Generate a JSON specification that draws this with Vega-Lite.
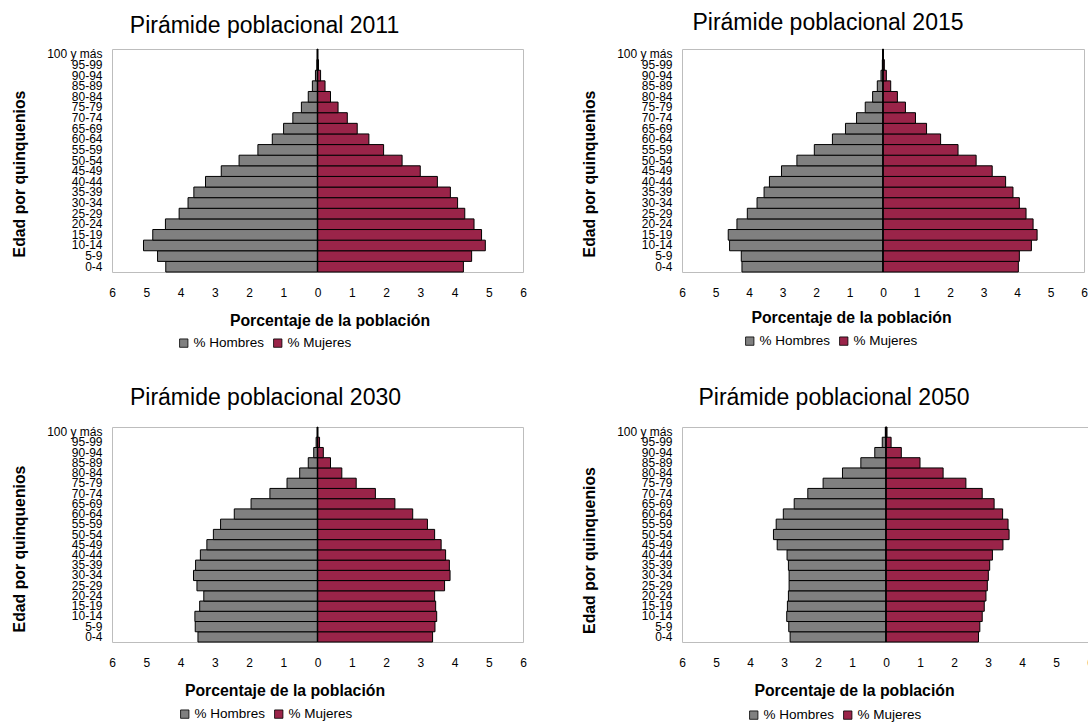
{
"$schema": "https://vega.github.io/schema/vega-lite/v6.json",
"background": "white",
"padding": {"left": 10, "top": 11, "right": 0, "bottom": 0},
"config": {"font": "Liberation Sans", "view": {"stroke": "#bdbdbd", "strokeWidth": 1}, "axis": {"grid": false}, "title": {"font": "Liberation Sans", "fontSize": 23, "fontWeight": "normal", "color": "#000", "anchor": "middle", "frame": "group"}},
"datasets": {"d": [
{"year":2011,"edad":"0-4","h":4.43,"m":4.26},{"year":2011,"edad":"5-9","h":4.67,"m":4.50},{"year":2011,"edad":"10-14","h":5.08,"m":4.90},{"year":2011,"edad":"15-19","h":4.81,"m":4.79},{"year":2011,"edad":"20-24","h":4.44,"m":4.57},{"year":2011,"edad":"25-29","h":4.04,"m":4.30},{"year":2011,"edad":"30-34","h":3.78,"m":4.09},{"year":2011,"edad":"35-39","h":3.61,"m":3.88},{"year":2011,"edad":"40-44","h":3.27,"m":3.50},{"year":2011,"edad":"45-49","h":2.81,"m":3.00},{"year":2011,"edad":"50-54","h":2.29,"m":2.47},{"year":2011,"edad":"55-59","h":1.74,"m":1.93},{"year":2011,"edad":"60-64","h":1.32,"m":1.50},{"year":2011,"edad":"65-69","h":0.99,"m":1.16},{"year":2011,"edad":"70-74","h":0.72,"m":0.87},{"year":2011,"edad":"75-79","h":0.47,"m":0.60},{"year":2011,"edad":"80-84","h":0.27,"m":0.38},{"year":2011,"edad":"85-89","h":0.15,"m":0.22},{"year":2011,"edad":"90-94","h":0.06,"m":0.09},{"year":2011,"edad":"95-99","h":0.02,"m":0.03},{"year":2011,"edad":"100 y más","h":0.01,"m":0.01},
{"year":2015,"edad":"0-4","h":4.21,"m":4.04},{"year":2015,"edad":"5-9","h":4.23,"m":4.07},{"year":2015,"edad":"10-14","h":4.58,"m":4.43},{"year":2015,"edad":"15-19","h":4.62,"m":4.60},{"year":2015,"edad":"20-24","h":4.36,"m":4.48},{"year":2015,"edad":"25-29","h":4.05,"m":4.27},{"year":2015,"edad":"30-34","h":3.76,"m":4.07},{"year":2015,"edad":"35-39","h":3.55,"m":3.88},{"year":2015,"edad":"40-44","h":3.39,"m":3.66},{"year":2015,"edad":"45-49","h":3.03,"m":3.26},{"year":2015,"edad":"50-54","h":2.57,"m":2.78},{"year":2015,"edad":"55-59","h":2.05,"m":2.24},{"year":2015,"edad":"60-64","h":1.51,"m":1.72},{"year":2015,"edad":"65-69","h":1.12,"m":1.30},{"year":2015,"edad":"70-74","h":0.79,"m":0.97},{"year":2015,"edad":"75-79","h":0.53,"m":0.67},{"year":2015,"edad":"80-84","h":0.31,"m":0.43},{"year":2015,"edad":"85-89","h":0.17,"m":0.23},{"year":2015,"edad":"90-94","h":0.06,"m":0.10},{"year":2015,"edad":"95-99","h":0.02,"m":0.04},{"year":2015,"edad":"100 y más","h":0.01,"m":0.01},
{"year":2030,"edad":"0-4","h":3.49,"m":3.36},{"year":2030,"edad":"5-9","h":3.57,"m":3.43},{"year":2030,"edad":"10-14","h":3.58,"m":3.48},{"year":2030,"edad":"15-19","h":3.44,"m":3.45},{"year":2030,"edad":"20-24","h":3.32,"m":3.42},{"year":2030,"edad":"25-29","h":3.52,"m":3.71},{"year":2030,"edad":"30-34","h":3.62,"m":3.87},{"year":2030,"edad":"35-39","h":3.56,"m":3.85},{"year":2030,"edad":"40-44","h":3.42,"m":3.74},{"year":2030,"edad":"45-49","h":3.23,"m":3.61},{"year":2030,"edad":"50-54","h":3.04,"m":3.42},{"year":2030,"edad":"55-59","h":2.83,"m":3.21},{"year":2030,"edad":"60-64","h":2.43,"m":2.78},{"year":2030,"edad":"65-69","h":1.94,"m":2.26},{"year":2030,"edad":"70-74","h":1.39,"m":1.69},{"year":2030,"edad":"75-79","h":0.89,"m":1.13},{"year":2030,"edad":"80-84","h":0.52,"m":0.71},{"year":2030,"edad":"85-89","h":0.27,"m":0.38},{"year":2030,"edad":"90-94","h":0.11,"m":0.17},{"year":2030,"edad":"95-99","h":0.04,"m":0.06},{"year":2030,"edad":"100 y más","h":0.01,"m":0.01},
{"year":2050,"edad":"0-4","h":2.82,"m":2.72},{"year":2050,"edad":"5-9","h":2.86,"m":2.76},{"year":2050,"edad":"10-14","h":2.92,"m":2.83},{"year":2050,"edad":"15-19","h":2.90,"m":2.89},{"year":2050,"edad":"20-24","h":2.87,"m":2.94},{"year":2050,"edad":"25-29","h":2.85,"m":2.98},{"year":2050,"edad":"30-34","h":2.85,"m":3.01},{"year":2050,"edad":"35-39","h":2.87,"m":3.05},{"year":2050,"edad":"40-44","h":2.91,"m":3.13},{"year":2050,"edad":"45-49","h":3.20,"m":3.44},{"year":2050,"edad":"50-54","h":3.31,"m":3.62},{"year":2050,"edad":"55-59","h":3.23,"m":3.59},{"year":2050,"edad":"60-64","h":3.02,"m":3.43},{"year":2050,"edad":"65-69","h":2.70,"m":3.18},{"year":2050,"edad":"70-74","h":2.30,"m":2.83},{"year":2050,"edad":"75-79","h":1.85,"m":2.35},{"year":2050,"edad":"80-84","h":1.28,"m":1.68},{"year":2050,"edad":"85-89","h":0.74,"m":1.00},{"year":2050,"edad":"90-94","h":0.33,"m":0.45},{"year":2050,"edad":"95-99","h":0.11,"m":0.15},{"year":2050,"edad":"100 y más","h":0.02,"m":0.03}
]},
"bounds": "flush",
"align": "each",
"columns": 2,
"spacing": {"row": 155, "column": 159},
"resolve": {"scale": {"color": "independent"}},
"concat": [
{"width": 411, "height": 223,
 "title": {"text": "Pirámide poblacional 2011", "dx": -53, "offset": 10},
 "data": {"name": "d"},
 "layer": [
  {"transform": [{"filter": "datum.year == 2011"}], "mark": {"type": "bar", "stroke": "#000", "strokeWidth": 1},
   "encoding": {
    "y": {"field": "edad", "type": "ordinal", "sort": ["100 y más","95-99","90-94","85-89","80-84","75-79","70-74","65-69","60-64","55-59","50-54","45-49","40-44","35-39","30-34","25-29","20-24","15-19","10-14","5-9","0-4"], "scale": {"paddingInner": 0, "paddingOuter": 0}, "axis": {"title": "Edad por quinquenios", "ticks": false, "domain": false, "labelPadding": 10, "labelFontSize": 12, "labelOverlap": false, "labelColor": "#000", "titleFontSize": 15.8, "titleFontWeight": "bold", "titleColor": "#000", "titleX": -93, "titleY": 124.5, "titleBaseline": "middle", "titleAlign": "center", "titleAngle": -90}},
    "x": {"field": "h", "type": "quantitative", "scale": {"domain": [-6, 6], "reverse": true, "nice": false, "zero": false}, "axis": null},
    "x2": {"datum": 0},
    "color": {"datum": "% Hombres", "type": "nominal", "scale": {"domain": ["% Hombres", "% Mujeres"], "range": ["#808080", "#9A2449"]}, "legend": {"orient": "none", "legendX": 65, "legendY": 287, "direction": "horizontal", "title": null, "symbolType": "square", "symbolSize": 70, "symbolStrokeColor": "#000", "symbolStrokeWidth": 0.8, "labelFontSize": 13.5, "labelColor": "#000", "columnPadding": 6, "labelOffset": 3}}
   }},
  {"transform": [{"filter": "datum.year == 2011"}], "mark": {"type": "bar", "stroke": "#000", "strokeWidth": 1},
   "encoding": {
    "y": {"field": "edad", "type": "ordinal", "sort": ["100 y más","95-99","90-94","85-89","80-84","75-79","70-74","65-69","60-64","55-59","50-54","45-49","40-44","35-39","30-34","25-29","20-24","15-19","10-14","5-9","0-4"], "scale": {"paddingInner": 0, "paddingOuter": 0}, "axis": {"title": "Edad por quinquenios", "ticks": false, "domain": false, "labelPadding": 10, "labelFontSize": 12, "labelOverlap": false, "labelColor": "#000", "titleFontSize": 15.8, "titleFontWeight": "bold", "titleColor": "#000", "titleX": -93, "titleY": 124.5, "titleBaseline": "middle", "titleAlign": "center", "titleAngle": -90}},
    "x": {"field": "m", "type": "quantitative", "scale": {"domain": [-6, 6], "nice": false, "zero": false}, "axis": {"values": [-6,-5,-4,-3,-2,-1,0,1,2,3,4,5,6], "labelExpr": "toString(abs(datum.value))", "ticks": false, "domain": false, "grid": false, "labelPadding": 15, "labelFontSize": 12, "labelColor": "#000", "labelFlush": false, "labelOverlap": false, "title": "Porcentaje de la población", "titleFontSize": 15.8, "titleFontWeight": "bold", "titleColor": "#000", "titleX": 217.5, "titleY": 48, "titleBaseline": "middle", "titleAlign": "center"}},
    "x2": {"datum": 0},
    "color": {"datum": "% Mujeres", "type": "nominal", "scale": {"domain": ["% Hombres", "% Mujeres"], "range": ["#808080", "#9A2449"]}, "legend": {"orient": "none", "legendX": 65, "legendY": 287, "direction": "horizontal", "title": null, "symbolType": "square", "symbolSize": 70, "symbolStrokeColor": "#000", "symbolStrokeWidth": 0.8, "labelFontSize": 13.5, "labelColor": "#000", "columnPadding": 6, "labelOffset": 3}}
   }},
  {"data": {"values": [{}]}, "mark": {"type": "rule", "color": "#000", "strokeWidth": 1.5},
   "encoding": {"x": {"datum": 0, "type": "quantitative", "scale": {"domain": [-6, 6], "nice": false, "zero": false}, "axis": null}}}
 ],
 "resolve": {"scale": {"x": "independent"}, "axis": {"x": "independent"}}
},
{"width": 402, "height": 223,
 "title": {"text": "Pirámide poblacional 2015", "dx": -55, "offset": 13},
 "data": {"name": "d"},
 "layer": [
  {"transform": [{"filter": "datum.year == 2015"}], "mark": {"type": "bar", "stroke": "#000", "strokeWidth": 1},
   "encoding": {
    "y": {"field": "edad", "type": "ordinal", "sort": ["100 y más","95-99","90-94","85-89","80-84","75-79","70-74","65-69","60-64","55-59","50-54","45-49","40-44","35-39","30-34","25-29","20-24","15-19","10-14","5-9","0-4"], "scale": {"paddingInner": 0, "paddingOuter": 0}, "axis": {"title": "Edad por quinquenios", "ticks": false, "domain": false, "labelPadding": 10, "labelFontSize": 12, "labelOverlap": false, "labelColor": "#000", "titleFontSize": 15.8, "titleFontWeight": "bold", "titleColor": "#000", "titleX": -93, "titleY": 124.5, "titleBaseline": "middle", "titleAlign": "center", "titleAngle": -90}},
    "x": {"field": "h", "type": "quantitative", "scale": {"domain": [-6, 6], "reverse": true, "nice": false, "zero": false}, "axis": null},
    "x2": {"datum": 0},
    "color": {"datum": "% Hombres", "type": "nominal", "scale": {"domain": ["% Hombres", "% Mujeres"], "range": ["#808080", "#9A2449"]}, "legend": {"orient": "none", "legendX": 61, "legendY": 285, "direction": "horizontal", "title": null, "symbolType": "square", "symbolSize": 70, "symbolStrokeColor": "#000", "symbolStrokeWidth": 0.8, "labelFontSize": 13.5, "labelColor": "#000", "columnPadding": 6, "labelOffset": 3}}
   }},
  {"transform": [{"filter": "datum.year == 2015"}], "mark": {"type": "bar", "stroke": "#000", "strokeWidth": 1},
   "encoding": {
    "y": {"field": "edad", "type": "ordinal", "sort": ["100 y más","95-99","90-94","85-89","80-84","75-79","70-74","65-69","60-64","55-59","50-54","45-49","40-44","35-39","30-34","25-29","20-24","15-19","10-14","5-9","0-4"], "scale": {"paddingInner": 0, "paddingOuter": 0}, "axis": {"title": "Edad por quinquenios", "ticks": false, "domain": false, "labelPadding": 10, "labelFontSize": 12, "labelOverlap": false, "labelColor": "#000", "titleFontSize": 15.8, "titleFontWeight": "bold", "titleColor": "#000", "titleX": -93, "titleY": 124.5, "titleBaseline": "middle", "titleAlign": "center", "titleAngle": -90}},
    "x": {"field": "m", "type": "quantitative", "scale": {"domain": [-6, 6], "nice": false, "zero": false}, "axis": {"values": [-6,-5,-4,-3,-2,-1,0,1,2,3,4,5,6], "labelExpr": "toString(abs(datum.value))", "ticks": false, "domain": false, "grid": false, "labelPadding": 15, "labelFontSize": 12, "labelColor": "#000", "labelFlush": false, "labelOverlap": false, "title": "Porcentaje de la población", "titleFontSize": 15.8, "titleFontWeight": "bold", "titleColor": "#000", "titleX": 169, "titleY": 45, "titleBaseline": "middle", "titleAlign": "center"}},
    "x2": {"datum": 0},
    "color": {"datum": "% Mujeres", "type": "nominal", "scale": {"domain": ["% Hombres", "% Mujeres"], "range": ["#808080", "#9A2449"]}, "legend": {"orient": "none", "legendX": 61, "legendY": 285, "direction": "horizontal", "title": null, "symbolType": "square", "symbolSize": 70, "symbolStrokeColor": "#000", "symbolStrokeWidth": 0.8, "labelFontSize": 13.5, "labelColor": "#000", "columnPadding": 6, "labelOffset": 3}}
   }},
  {"data": {"values": [{}]}, "mark": {"type": "rule", "color": "#000", "strokeWidth": 1.5},
   "encoding": {"x": {"datum": 0, "type": "quantitative", "scale": {"domain": [-6, 6], "nice": false, "zero": false}, "axis": null}}}
 ],
 "resolve": {"scale": {"x": "independent"}, "axis": {"x": "independent"}}
},
{"width": 411, "height": 215,
 "title": {"text": "Pirámide poblacional 2030", "dx": -52, "offset": 16},
 "data": {"name": "d"},
 "layer": [
  {"transform": [{"filter": "datum.year == 2030"}], "mark": {"type": "bar", "stroke": "#000", "strokeWidth": 1},
   "encoding": {
    "y": {"field": "edad", "type": "ordinal", "sort": ["100 y más","95-99","90-94","85-89","80-84","75-79","70-74","65-69","60-64","55-59","50-54","45-49","40-44","35-39","30-34","25-29","20-24","15-19","10-14","5-9","0-4"], "scale": {"paddingInner": 0, "paddingOuter": 0}, "axis": {"title": "Edad por quinquenios", "ticks": false, "domain": false, "labelPadding": 10, "labelFontSize": 12, "labelOverlap": false, "labelColor": "#000", "titleFontSize": 15.8, "titleFontWeight": "bold", "titleColor": "#000", "titleX": -93, "titleY": 121.5, "titleBaseline": "middle", "titleAlign": "center", "titleAngle": -90}},
    "x": {"field": "h", "type": "quantitative", "scale": {"domain": [-6, 6], "reverse": true, "nice": false, "zero": false}, "axis": null},
    "x2": {"datum": 0},
    "color": {"datum": "% Hombres", "type": "nominal", "scale": {"domain": ["% Hombres", "% Mujeres"], "range": ["#808080", "#9A2449"]}, "legend": {"orient": "none", "legendX": 66, "legendY": 280, "direction": "horizontal", "title": null, "symbolType": "square", "symbolSize": 70, "symbolStrokeColor": "#000", "symbolStrokeWidth": 0.8, "labelFontSize": 13.5, "labelColor": "#000", "columnPadding": 6, "labelOffset": 3}}
   }},
  {"transform": [{"filter": "datum.year == 2030"}], "mark": {"type": "bar", "stroke": "#000", "strokeWidth": 1},
   "encoding": {
    "y": {"field": "edad", "type": "ordinal", "sort": ["100 y más","95-99","90-94","85-89","80-84","75-79","70-74","65-69","60-64","55-59","50-54","45-49","40-44","35-39","30-34","25-29","20-24","15-19","10-14","5-9","0-4"], "scale": {"paddingInner": 0, "paddingOuter": 0}, "axis": {"title": "Edad por quinquenios", "ticks": false, "domain": false, "labelPadding": 10, "labelFontSize": 12, "labelOverlap": false, "labelColor": "#000", "titleFontSize": 15.8, "titleFontWeight": "bold", "titleColor": "#000", "titleX": -93, "titleY": 121.5, "titleBaseline": "middle", "titleAlign": "center", "titleAngle": -90}},
    "x": {"field": "m", "type": "quantitative", "scale": {"domain": [-6, 6], "nice": false, "zero": false}, "axis": {"values": [-6,-5,-4,-3,-2,-1,0,1,2,3,4,5,6], "labelExpr": "toString(abs(datum.value))", "ticks": false, "domain": false, "grid": false, "labelPadding": 15, "labelFontSize": 12, "labelColor": "#000", "labelFlush": false, "labelOverlap": false, "title": "Porcentaje de la población", "titleFontSize": 15.8, "titleFontWeight": "bold", "titleColor": "#000", "titleX": 172.5, "titleY": 48, "titleBaseline": "middle", "titleAlign": "center"}},
    "x2": {"datum": 0},
    "color": {"datum": "% Mujeres", "type": "nominal", "scale": {"domain": ["% Hombres", "% Mujeres"], "range": ["#808080", "#9A2449"]}, "legend": {"orient": "none", "legendX": 66, "legendY": 280, "direction": "horizontal", "title": null, "symbolType": "square", "symbolSize": 70, "symbolStrokeColor": "#000", "symbolStrokeWidth": 0.8, "labelFontSize": 13.5, "labelColor": "#000", "columnPadding": 6, "labelOffset": 3}}
   }},
  {"data": {"values": [{}]}, "mark": {"type": "rule", "color": "#000", "strokeWidth": 1.5},
   "encoding": {"x": {"datum": 0, "type": "quantitative", "scale": {"domain": [-6, 6], "nice": false, "zero": false}, "axis": null}}}
 ],
 "resolve": {"scale": {"x": "independent"}, "axis": {"x": "independent"}}
},
{"width": 408, "height": 215,
 "title": {"text": "Pirámide poblacional 2050", "dx": -52, "offset": 16},
 "data": {"name": "d"},
 "layer": [
  {"transform": [{"filter": "datum.year == 2050"}], "mark": {"type": "bar", "stroke": "#000", "strokeWidth": 1},
   "encoding": {
    "y": {"field": "edad", "type": "ordinal", "sort": ["100 y más","95-99","90-94","85-89","80-84","75-79","70-74","65-69","60-64","55-59","50-54","45-49","40-44","35-39","30-34","25-29","20-24","15-19","10-14","5-9","0-4"], "scale": {"paddingInner": 0, "paddingOuter": 0}, "axis": {"title": "Edad por quinquenios", "ticks": false, "domain": false, "labelPadding": 10, "labelFontSize": 12, "labelOverlap": false, "labelColor": "#000", "titleFontSize": 15.8, "titleFontWeight": "bold", "titleColor": "#000", "titleX": -93, "titleY": 123, "titleBaseline": "middle", "titleAlign": "center", "titleAngle": -90}},
    "x": {"field": "h", "type": "quantitative", "scale": {"domain": [-6, 6], "reverse": true, "nice": false, "zero": false}, "axis": null},
    "x2": {"datum": 0},
    "color": {"datum": "% Hombres", "type": "nominal", "scale": {"domain": ["% Hombres", "% Mujeres"], "range": ["#808080", "#9A2449"]}, "legend": {"orient": "none", "legendX": 65, "legendY": 281, "direction": "horizontal", "title": null, "symbolType": "square", "symbolSize": 70, "symbolStrokeColor": "#000", "symbolStrokeWidth": 0.8, "labelFontSize": 13.5, "labelColor": "#000", "columnPadding": 6, "labelOffset": 3}}
   }},
  {"transform": [{"filter": "datum.year == 2050"}], "mark": {"type": "bar", "stroke": "#000", "strokeWidth": 1},
   "encoding": {
    "y": {"field": "edad", "type": "ordinal", "sort": ["100 y más","95-99","90-94","85-89","80-84","75-79","70-74","65-69","60-64","55-59","50-54","45-49","40-44","35-39","30-34","25-29","20-24","15-19","10-14","5-9","0-4"], "scale": {"paddingInner": 0, "paddingOuter": 0}, "axis": {"title": "Edad por quinquenios", "ticks": false, "domain": false, "labelPadding": 10, "labelFontSize": 12, "labelOverlap": false, "labelColor": "#000", "titleFontSize": 15.8, "titleFontWeight": "bold", "titleColor": "#000", "titleX": -93, "titleY": 123, "titleBaseline": "middle", "titleAlign": "center", "titleAngle": -90}},
    "x": {"field": "m", "type": "quantitative", "scale": {"domain": [-6, 6], "nice": false, "zero": false}, "axis": {"values": [-6,-5,-4,-3,-2,-1,0,1,2,3,4,5,6], "labelExpr": "toString(abs(datum.value))", "ticks": false, "domain": false, "grid": false, "labelPadding": 15, "labelFontSize": 12, "labelColor": "#000", "labelFlush": false, "labelOverlap": false, "title": "Porcentaje de la población", "titleFontSize": 15.8, "titleFontWeight": "bold", "titleColor": "#000", "titleX": 172, "titleY": 48, "titleBaseline": "middle", "titleAlign": "center"}},
    "x2": {"datum": 0},
    "color": {"datum": "% Mujeres", "type": "nominal", "scale": {"domain": ["% Hombres", "% Mujeres"], "range": ["#808080", "#9A2449"]}, "legend": {"orient": "none", "legendX": 65, "legendY": 281, "direction": "horizontal", "title": null, "symbolType": "square", "symbolSize": 70, "symbolStrokeColor": "#000", "symbolStrokeWidth": 0.8, "labelFontSize": 13.5, "labelColor": "#000", "columnPadding": 6, "labelOffset": 3}}
   }},
  {"data": {"values": [{}]}, "mark": {"type": "rule", "color": "#000", "strokeWidth": 1.5},
   "encoding": {"x": {"datum": 0, "type": "quantitative", "scale": {"domain": [-6, 6], "nice": false, "zero": false}, "axis": null}}}
 ],
 "resolve": {"scale": {"x": "independent"}, "axis": {"x": "independent"}}
}
]
}
